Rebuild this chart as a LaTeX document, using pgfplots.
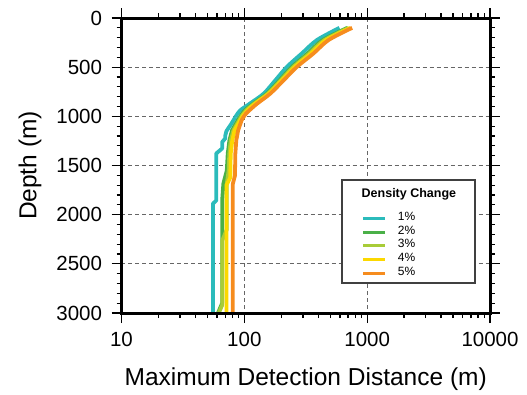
\documentclass[border=0pt]{standalone}
\usepackage{pgfplots}
\pgfplotsset{compat=1.18}
\usepackage{fontspec}
\setmainfont{Liberation Sans}
\definecolor{cA}{RGB}{43,187,187}
\definecolor{cB}{RGB}{74,176,72}
\definecolor{cC}{RGB}{168,204,56}
\definecolor{cD}{RGB}{252,216,0}
\definecolor{cE}{RGB}{246,140,30}
\begin{document}
\begin{tikzpicture}
\begin{axis}[
  scale only axis, width=368.5pt, height=295pt,
  xmode=log, xmin=10, xmax=10000,
  ymin=0, ymax=3000, y dir=reverse,
  xtick={10,100,1000,10000}, xticklabels={10,100,1000,10000},
  minor xtick={20,30,40,50,60,70,80,90,200,300,400,500,600,700,800,900,2000,3000,4000,5000,6000,7000,8000,9000},
  ytick={0,500,1000,1500,2000,2500,3000}, yticklabels={0,500,1000,1500,2000,2500,3000},
  minor ytick={100,200,300,400,600,700,800,900,1100,1200,1300,1400,1600,1700,1800,1900,2100,2200,2300,2400,2600,2700,2800,2900},
  tick align=outside,
  major tick length=10pt, minor tick length=5pt,
  tick style={black, line width=1.3pt},
  axis line style={line width=3pt},
  grid=major,
  major grid style={line width=0.9pt, color=black!60, dash pattern=on 4pt off 3pt},
  /pgf/number format/assume math mode=true,
  ticklabel style={font=\fontsize{20.5}{24}\selectfont},
  xticklabel style={yshift=-6pt},
  yticklabel style={xshift=-6pt},
  xlabel={Maximum Detection Distance (m)},
  ylabel={Depth (m)},
  every axis x label/.style={at={(rel axis cs:0.5,-0.2237)}, anchor=center, font=\fontsize{24.5}{29}\selectfont},
  every axis y label/.style={at={(rel axis cs:-0.2483,0.5)}, rotate=90, anchor=center, font=\fontsize{24.5}{29}\selectfont},
  clip mode=individual,
  legend style={at={(rel axis cs:0.6518,0.345)}, anchor=north west, draw=none, fill=none,
    inner sep=0pt, column sep=11pt, row sep=0pt,
    font=\fontsize{12}{14}\selectfont,
    nodes={inner sep=0pt, text height=9pt, text depth=4.75pt}},
  legend cell align=left,
  legend image code/.code={\draw[#1, line width=3pt] (0pt,0pt) -- (22pt,0pt);},
  every axis plot/.append style={line width=3.8pt, line join=round},
]
\draw[fill=white, draw=black!75, line width=1.2pt] (rel axis cs:0.5984,0.1017) rectangle (rel axis cs:0.9593,0.4508);
\node[font=\bfseries\fontsize{12.5}{14}\selectfont] at (rel axis cs:0.780,0.4024) {Density Change};

% 1%
\addplot[cA, smooth, forget plot] coordinates {
(595,100) (390,224) (294,360) (222,497) (179,633) (144,768) (112,867) (92.7,939) (84.5,1007)};
\addplot[cA] coordinates {
(84.5,1007) (78,1080) (71.5,1150) (70,1194) (70,1224) (66,1262) (66,1327) (59,1378) (59,1857) (55.5,1888) (55.5,3000)};
\addlegendentry{1\%}
% 2%
\addplot[cB, smooth, forget plot] coordinates {
(690,100) (435,224) (328,360) (244,497) (193.5,633) (153,768) (119.3,867) (101,939) (92,1007)};
\addplot[cB] coordinates {
(92,1007) (88.3,1041) (79.4,1143) (75.6,1245) (73.3,1378) (72,1551) (67.5,1684) (66,1857) (66,2900) (61,3000)};
\addlegendentry{2\%}
% 3%
\addplot[cC, smooth, forget plot] coordinates {
(710,100) (449,224) (339,360) (251,497) (198,633) (156,768) (121.5,867) (103.6,939) (94,1007)};
\addplot[cC] coordinates {
(94,1007) (81.5,1143) (77.5,1245) (75.5,1378) (74.5,1551) (72,1684) (72,2150) (66,2265) (66,2920) (62,3000)};
\addlegendentry{3\%}
% 4%
\addplot[cD, smooth, forget plot] coordinates {
(735,100) (464,224) (350,360) (258,497) (202.6,633) (159,768) (124,867) (106.3,939) (96,1007)};
\addplot[cD] coordinates {
(96,1007) (83.3,1143) (79.8,1245) (77.5,1378) (77,1551) (77,1620) (71.5,1700) (71.5,3000)};
\addlegendentry{4\%}
% 5%
\addplot[cE, smooth, forget plot] coordinates {
(755,100) (485,224) (366,360) (268,497) (209,633) (163,768) (127,871) (110,939) (103,973) (97,1020)};
\addplot[cE] coordinates {
(97,1020) (95,1041) (89,1143) (86,1245) (84.5,1378) (84,1560) (84,1600) (80.5,1690) (80.5,3000)};
\addlegendentry{5\%}

\draw[line width=3pt] (rel axis cs:0,0) rectangle (rel axis cs:1,1);
\path (rel axis cs:-0.3297,-0.2746) rectangle (rel axis cs:1.1004,1.0610);
\end{axis}
\end{tikzpicture}
\end{document}
